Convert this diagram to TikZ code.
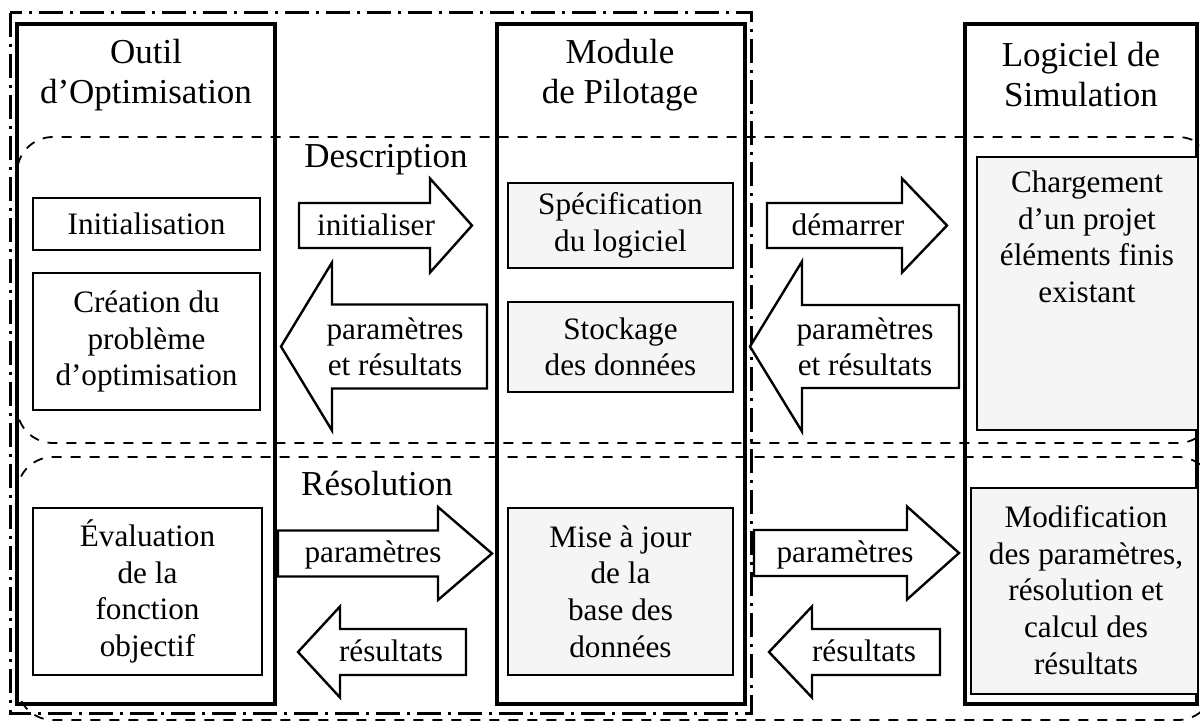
\documentclass[tikz,border=0pt]{standalone}
\usepackage{fontspec}
\setmainfont{Liberation Serif}
\usetikzlibrary{fit}

\newcommand\ttlfont{\fontsize{17.5}{20}\selectfont}
\newcommand\txtfont{\fontsize{15.6}{18.3}\selectfont}

\tikzset{
  column/.style={draw, line width=1.6pt, inner sep=0pt},
  ibox/.style={draw, line width=1.4pt, inner sep=0pt},
  shaded/.style={fill=black!4},
  title/.style={align=center, font=\ttlfont, inner sep=0pt},
  lbl/.style={align=center, font=\txtfont, inner sep=0pt},
  region/.style={draw, line width=0.9pt, dash pattern=on 5pt off 4.5pt, rounded corners=18pt},
  frame/.style={draw, line width=1.5pt, dash pattern=on 12pt off 3.5pt on 1.5pt off 3.5pt},
  barrow/.style={draw, fill=white, line width=1.2pt, line join=miter},
}

% block arrow: tail x, head base x, tip x, centre y, half body, half head
\newcommand\blockarrow[6]{%
  \draw[barrow] (#1,#4-#5) -- (#2,#4-#5) -- (#2,#4-#6) -- (#3,#4)
    -- (#2,#4+#6) -- (#2,#4+#5) -- (#1,#4+#5) -- cycle;}

\begin{document}
\begin{tikzpicture}[x=0.5pt,y=-0.5pt]
\useasboundingbox (0,0) rectangle (1200,721);
\clip (0,0) rectangle (1200,721);

% phases
\draw[region] (17,137) rectangle (1214,443);
\draw[region] (17,457) rectangle (1214,720);

% dash-dot frame around the optimisation side
\draw[frame] (10,13) rectangle (751,713);

% columns
\node[column, fit={(17,24) (275,704)}] (outil) {};
\node[column, fit={(497,24) (745,704)}] (module) {};
\node[column, fit={(965,24) (1197,704)}] (logiciel) {};

\node[title] (t-outil) at (146,75) {Outil\\d’Optimisation};
\node[title] (t-module) at (620,75) {Module\\de Pilotage};
\node[title] (t-logiciel) at (1081,75) {Logiciel de\\Simulation};

\node[title] (desc) at (386,160) {Description};
\node[title] (resol) at (377,484) {Résolution};

% optimisation tool
\node[ibox, fit={(33,198) (260,250)}] (init) {};
\node[lbl] (init-txt) at (init) {Initialisation};
\node[ibox, fit={(33,273) (260,410)}] (creation) {};
\node[lbl] (creation-txt) at (creation) {Création du\\problème\\d’optimisation};
\node[ibox, fit={(33,508) (262,675)}] (evaluation) {};
\node[lbl] (evaluation-txt) at (evaluation) {Évaluation\\de la\\fonction\\objectif};

% driver module
\node[ibox, shaded, fit={(508,183) (733,268)}] (specif) {};
\node[lbl] (specif-txt) at (specif) {Spécification\\du logiciel};
\node[ibox, shaded, fit={(508,302) (733,392)}] (stockage) {};
\node[lbl] (stockage-txt) at (stockage) {Stockage\\des données};
\node[ibox, shaded, fit={(508,508) (733,675)}] (maj) {};
\node[lbl] (maj-txt) at (maj) {Mise à jour\\de la\\base des\\données};

% simulation software
\node[ibox, shaded, fit={(977,157) (1198,430)}] (charg) {};
\node[lbl] (charg-txt) at (1087,237) {Chargement\\d’un projet\\éléments finis\\existant};
\node[ibox, shaded, fit={(971,488) (1198,694)}] (modif) {};
\node[lbl] (modif-txt) at (1086,590) {Modification\\des paramètres,\\résolution et\\calcul des\\résultats};

% exchanges, description phase
\blockarrow{299}{430}{472}{225.5}{22.5}{47}
\node[lbl] (a-init) at (376,225) {initialiser};
\blockarrow{487}{332}{281}{346.5}{42}{84}
\node[lbl] (a-pr1) at (395,347) {paramètres\\et résultats};
\blockarrow{767}{902}{947}{225.5}{22.5}{47}
\node[lbl] (a-dem) at (848,225) {démarrer};
\blockarrow{959}{802}{750}{346.5}{41.5}{85}
\node[lbl] (a-pr2) at (865,347) {paramètres\\et résultats};

% exchanges, resolution phase
\blockarrow{278}{438}{492}{553.5}{23}{46.5}
\node[lbl] (a-p1) at (373,555) {paramètres};
\blockarrow{466}{340}{298}{652}{23}{45.5}
\node[lbl] (a-r1) at (391,651) {résultats};
\blockarrow{754}{907}{959}{553}{23}{46.5}
\node[lbl] (a-p2) at (845,555) {paramètres};
\blockarrow{940}{812}{769}{652}{23}{45.5}
\node[lbl] (a-r2) at (864,651) {résultats};
\end{tikzpicture}
\end{document}
